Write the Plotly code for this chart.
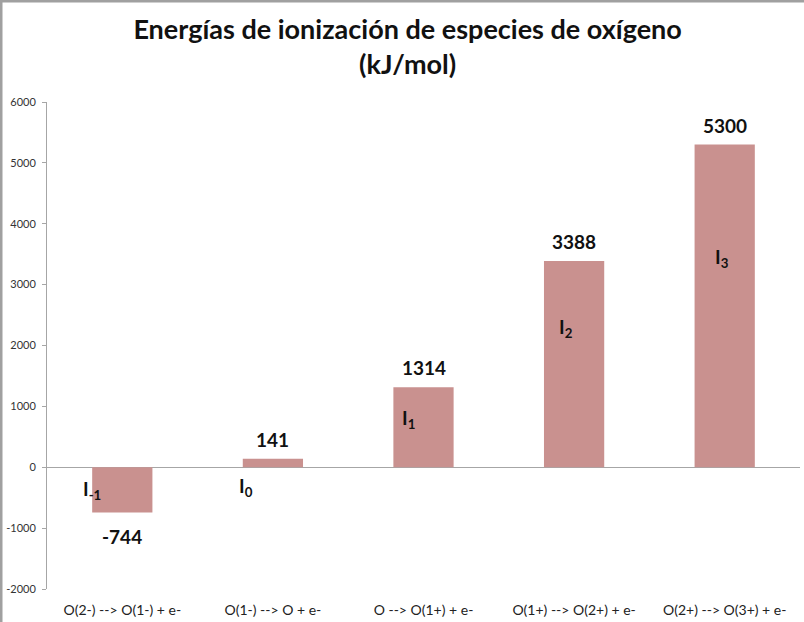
import plotly.graph_objects as go

categories = ["O(2-) --> O(1-) + e-", "O(1-) --> O + e-", "O --> O(1+) + e-",
              "O(1+) --> O(2+) + e-", "O(2+) --> O(3+) + e-"]
values = [-744, 141, 1314, 3388, 5300]
value_labels = ["-744", "141", "1314", "3388", "5300"]
ion_labels = ["I<sub>-1</sub>", "I<sub>0</sub>", "I<sub>1</sub>", "I<sub>2</sub>", "I<sub>3</sub>"]
ion_label_y = [-380, -330, 800, 2280, 3430]
ion_label_xshift = [-30, -27, -15, -8, -3]

y_ticks = [-2000, -1000, 0, 1000, 2000, 3000, 4000, 5000, 6000]

FONT = "Lato"
BAR_COLOR = "#c9918f"
W, H = 804, 622
ML, MR, MT, MB = 47, 4, 102, 33

fig = go.Figure()
fig.add_trace(go.Bar(
    x=categories, y=values,
    marker=dict(color=BAR_COLOR, line=dict(width=0)),
    width=0.4,
    hoverinfo="x+y",
))

for c, v, t in zip(categories, values, value_labels):
    fig.add_annotation(x=c, y=v, text="<b>" + t + "</b>", showarrow=False,
                       yanchor="bottom" if v >= 0 else "top",
                       yshift=6 if v >= 0 else -10,
                       font=dict(family=FONT, size=19, color="#111111"))

for c, t, yv, xs in zip(categories, ion_labels, ion_label_y, ion_label_xshift):
    fig.add_annotation(x=c, y=yv, text="<b>" + t + "</b>", showarrow=False,
                       xshift=xs, font=dict(family=FONT, size=19, color="#111111"))

fig.update_layout(
    width=W, height=H,
    margin=dict(l=ML, r=MR, t=MT, b=MB),
    paper_bgcolor="white", plot_bgcolor="white",
    showlegend=False,
    title=dict(text="<b>Energías de ionización de especies de oxígeno<br>(kJ/mol)</b>",
               x=0.507, xanchor="center", y=0.938, yanchor="top",
               font=dict(family=FONT, size=27, color="#111111")),
    font=dict(family=FONT),
)
fig.update_xaxes(
    showgrid=False, showline=False, zeroline=False, ticks="",
    tickfont=dict(family=FONT, size=14, color="#222222"),
    ticklabelstandoff=11,
)
fig.update_yaxes(
    range=[-2000, 6000], tickvals=y_ticks, ticktext=[str(v) for v in y_ticks],
    showgrid=False, showline=True, linecolor="#a6a6a6", linewidth=1,
    ticks="outside", ticklen=4, tickcolor="#a6a6a6",
    zeroline=True, zerolinecolor="#a6a6a6", zerolinewidth=1,
    tickfont=dict(family=FONT, size=11, color="#333333"),
    ticklabelstandoff=4,
)
pw, ph = W - ML - MR, H - MT - MB
# thin grey frame along left and top edges, as in the reference
fig.add_shape(type="line", xref="paper", yref="paper", x0=-(ML - 1) / pw, x1=-(ML - 1) / pw,
              y0=-MB / ph, y1=1 + MT / ph, line=dict(color="#a0a0a0", width=3))
fig.add_shape(type="line", xref="paper", yref="paper", x0=-ML / pw, x1=1 + MR / pw,
              y0=1 + (MT - 1) / ph, y1=1 + (MT - 1) / ph, line=dict(color="#a0a0a0", width=3))

fig.write_html("out.html", config={"displayModeBar": False},
               post_script="document.body.style.margin='0';document.body.style.overflow='hidden';")
